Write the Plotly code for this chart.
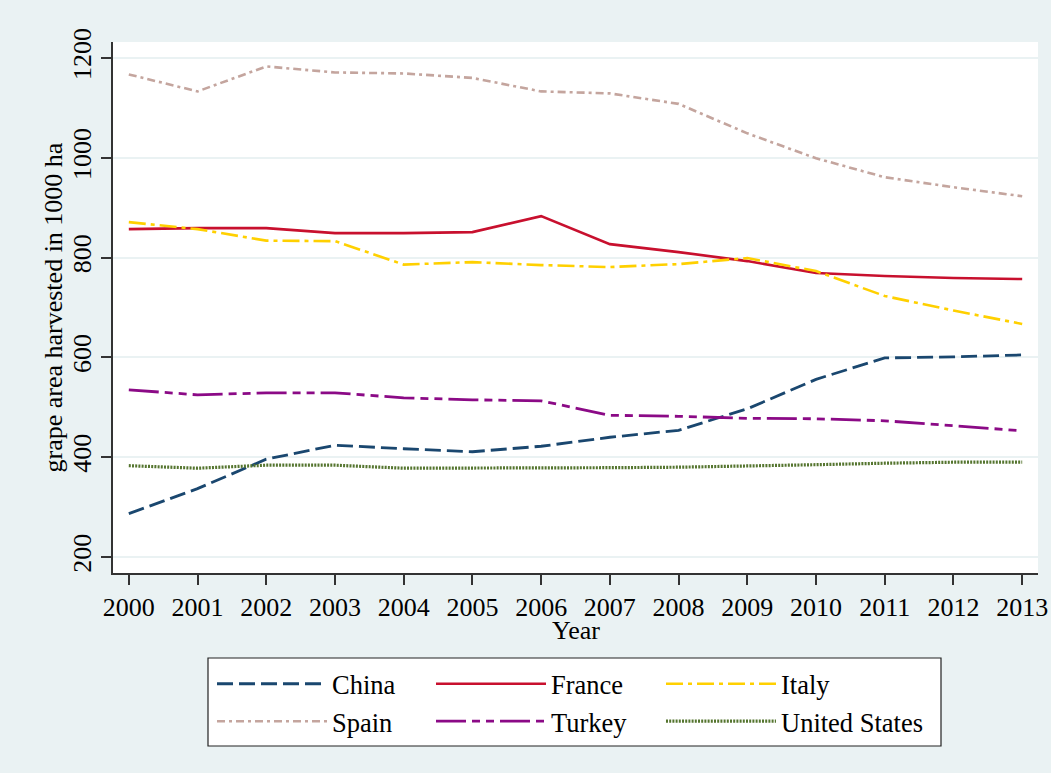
import plotly.graph_objects as go

years = list(range(2000, 2014))
china = [287, 337, 396, 424, 417, 411, 422, 440, 454, 497, 556, 599, 601, 605]
france = [857, 859, 859, 849, 849, 851, 883, 827, 811, 793, 769, 763, 759, 757]
italy = [871, 857, 834, 833, 786, 791, 785, 781, 787, 799, 773, 723, 694, 667]
spain = [1167, 1133, 1183, 1171, 1169, 1160, 1133, 1129, 1108, 1049, 999, 961, 941, 923]
turkey = [535, 525, 529, 529, 519, 515, 513, 484, 482, 478, 477, 473, 463, 453]
united_states = [383, 378, 384, 384, 378, 378, 379, 379, 380, 382, 385, 388, 390, 390]

y_ticks = [200, 400, 600, 800, 1000, 1200]

# name, values, colour, dash, width, legend column
series = [
    ("China", china, "#1A476F", "16px,6px", 2.8, "legend"),
    ("France", france, "#C8102E", "solid", 2.6, "legend2"),
    ("Italy", italy, "#FFD000", "17px,5px,4px,5px", 2.6, "legend3"),
    ("Spain", spain, "#C4A59E", "8px,4px,3px,4px", 2.6, "legend"),
    ("Turkey", turkey, "#8B0A86", "30px,6px,8px,6px,8px,6px", 2.8, "legend2"),
    ("United States", united_states, "#55752F", "2px,1.2px", 3.2, "legend3"),
]

FONT = "Liberation Serif"
bg = "#EAF2F3"

fig = go.Figure()
for name, vals, color, dash, w, lg in series:
    fig.add_trace(go.Scatter(
        x=years, y=vals, name=name, mode="lines",
        line=dict(color=color, dash=dash, width=w),
        legend=lg,
    ))

# plot area in pixels: x 113..1038, y 42..573
PW, PH = 925.0, 531.0
def px_x(px):
    return (px - 113) / PW
def px_y(py):
    return (573 - py) / PH

legend_common = dict(
    orientation="v",
    xanchor="left", yanchor="top",
    y=px_y(660),
    bgcolor="rgba(0,0,0,0)", borderwidth=0,
    font=dict(family=FONT, size=26.5, color="black"),
    itemwidth=110,
    traceorder="normal",
)

title_font = dict(family=FONT, size=26, color="black")

fig.update_layout(
    width=1051, height=773,
    paper_bgcolor=bg, plot_bgcolor="white",
    margin=dict(l=113, r=13, t=42, b=200, pad=0),
    font=dict(family=FONT, size=26, color="black"),
    showlegend=True,
    legend=dict(legend_common, x=px_x(212)),
    legend2=dict(legend_common, x=px_x(431)),
    legend3=dict(legend_common, x=px_x(661)),
    shapes=[dict(
        type="rect", xref="paper", yref="paper",
        x0=px_x(208), x1=px_x(941), y0=px_y(746), y1=px_y(658),
        fillcolor="white", line=dict(color="#222222", width=1.2),
        layer="below",
    )],
    annotations=[
        dict(text="Year", xref="paper", yref="paper", x=0.5, y=px_y(630),
             xanchor="center", yanchor="middle", showarrow=False, font=title_font),
        dict(text="grape area harvested in 1000 ha", xref="paper", yref="paper",
             x=px_x(53), y=0.5, xanchor="center", yanchor="middle",
             textangle=-90, showarrow=False, font=title_font),
    ],
    xaxis=dict(
        range=[1999.77, 2013.23], automargin=False,
        tickmode="array", tickvals=years, ticktext=[str(y) for y in years],
        showline=True, linecolor="#333333", linewidth=1.5,
        ticks="outside", ticklen=10, tickwidth=1.5, tickcolor="#333333",
        showgrid=False, zeroline=False,
        tickfont=dict(family=FONT, size=26, color="black"),
    ),
    yaxis=dict(
        range=[168, 1232], automargin=False,
        tickmode="array", tickvals=y_ticks, ticktext=[str(v) for v in y_ticks],
        tickangle=-90,
        showline=True, linecolor="#333333", linewidth=1.5,
        ticks="outside", ticklen=10, tickwidth=1.5, tickcolor="#333333",
        showgrid=True, gridcolor=bg, gridwidth=2,
        zeroline=False,
        tickfont=dict(family=FONT, size=26, color="black"),
    ),
)

fig.write_html("out.html")
